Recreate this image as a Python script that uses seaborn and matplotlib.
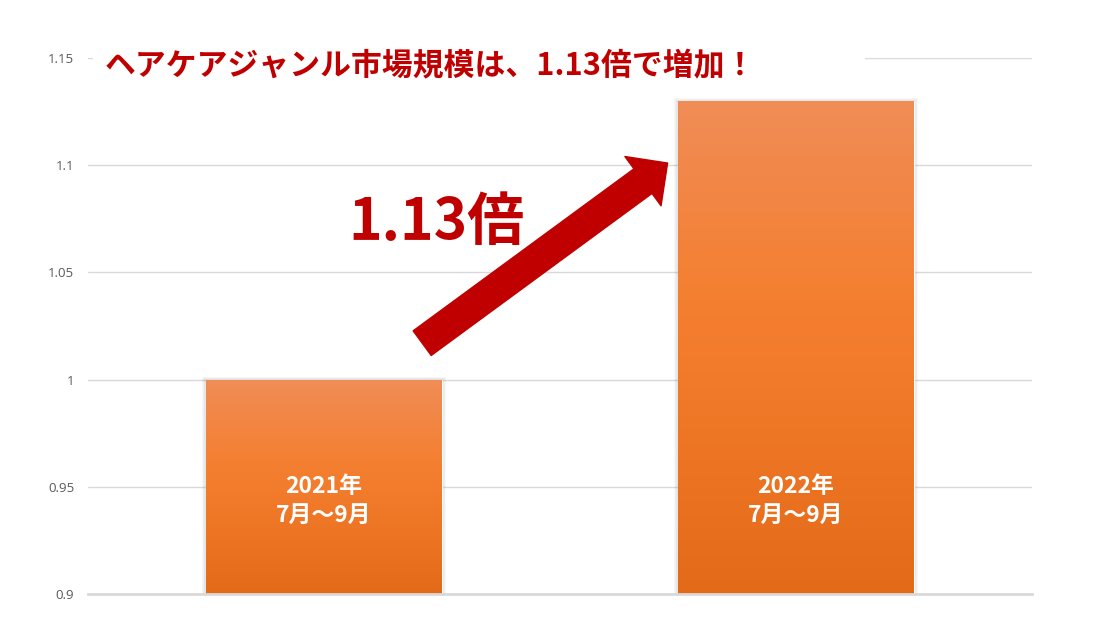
import matplotlib
matplotlib.use("Agg")
import matplotlib.pyplot as plt
import seaborn as sns
import numpy as np
import pandas as pd
from matplotlib.colors import LinearSegmentedColormap
from matplotlib.patches import Rectangle, FancyArrowPatch
from matplotlib.ticker import FuncFormatter

# Data
periods = ["2021年\n7月～9月", "2022年\n7月～9月"]
market_index = [1.00, 1.13]
y_ticks = [0.9, 0.95, 1.0, 1.05, 1.1, 1.15]
title_text = "ヘアケアジャンル市場規模は、1.13倍で増加！"
ratio_text = "1.13倍"

sns.set_theme(style="white")
plt.rcParams["font.family"] = ["Noto Sans CJK JP", "DejaVu Sans"]

df = pd.DataFrame({"period": periods, "index": market_index})

fig = plt.figure(figsize=(11.03, 6.43), dpi=100)
ax = fig.add_axes([0.0798, 0.0762, 0.8558, 0.8336])

sns.barplot(data=df, x="period", y="index", ax=ax, width=0.5,
            color="#F47F30", saturation=1, zorder=3)

ax.set_xlim(-0.5, 1.5)
ax.set_ylim(0.9, 1.15)
ax.set_yticks(y_ticks)
ax.yaxis.set_major_formatter(FuncFormatter(lambda v, p: f"{v:g}"))
ax.tick_params(axis="y", length=0, pad=10, labelsize=9.5, labelcolor="#595959")
for lbl in ax.get_yticklabels():
    lbl.set_family(["Open Sans", "DejaVu Sans"])
ax.set_xticks([])
ax.set_xlabel("")
ax.set_ylabel("")
ax.grid(axis="y", color="#D9D9D9", linewidth=1, zorder=0)
for side in ["top", "right", "left"]:
    ax.spines[side].set_visible(False)
ax.spines["bottom"].set_color("#D9D9D9")
ax.spines["bottom"].set_linewidth(2)
ax.spines["bottom"].set_zorder(6)

# Vertical orange gradient inside each bar, plus a soft grey shadow
grad = LinearSegmentedColormap.from_list(
    "bar_grad",
    [(0.0, "#E36A18"), (0.45, "#F27B2B"), (0.6, "#F47F30"), (1.0, "#F08D57")])
px_x = 2.0 / (0.8558 * 1103)
px_y = 0.25 / (0.8336 * 643)
y0 = ax.get_ylim()[0]
for bar in ax.patches:
    x = bar.get_x()
    w = bar.get_width()
    top = bar.get_height()
    for k in range(1, 5):
        ax.add_patch(Rectangle((x - k * px_x, y0), w + 2 * k * px_x,
                               top - y0 + k * px_y * 0.6,
                               facecolor="#000000", alpha=0.03,
                               edgecolor="none", zorder=2))
    img = ax.imshow(np.linspace(0, 1, 256).reshape(-1, 1), cmap=grad,
                    origin="lower", aspect="auto",
                    extent=(x, x + w, y0, top), zorder=4)
    img.set_clip_path(bar)

ax.set_xlim(-0.5, 1.5)
ax.set_ylim(0.9, 1.15)

# Period labels inside the bars
for i, lab in enumerate(periods):
    ax.text(i, 0.9434, lab, ha="center", va="center", color="white",
            fontsize=16.5, fontweight="bold", linespacing=1.3, zorder=7)

# Title on a white band that hides the top gridline
ax.add_patch(Rectangle((0.005, 0.955), 0.818, 0.06, transform=ax.transAxes,
                       facecolor="white", edgecolor="none", zorder=5,
                       clip_on=False))
ax.text(0.018, 0.985, title_text, transform=ax.transAxes, ha="left",
        va="center", color="#C00000", fontsize=22.2, fontweight="bold",
        zorder=8)

# Growth arrow between the bars
arrow = FancyArrowPatch((0.208, 1.017), (0.728, 1.101),
                        arrowstyle="simple,head_width=2.2,head_length=1.1,tail_width=1.1",
                        mutation_scale=20, color="#C00000", zorder=8,
                        shrinkA=0, shrinkB=0)
ax.add_patch(arrow)

ax.text(0.238, 1.073, ratio_text, ha="center", va="center", color="#C00000",
        fontsize=41, fontweight="bold", zorder=8)

fig.savefig("out.png", dpi=100, facecolor="white")
